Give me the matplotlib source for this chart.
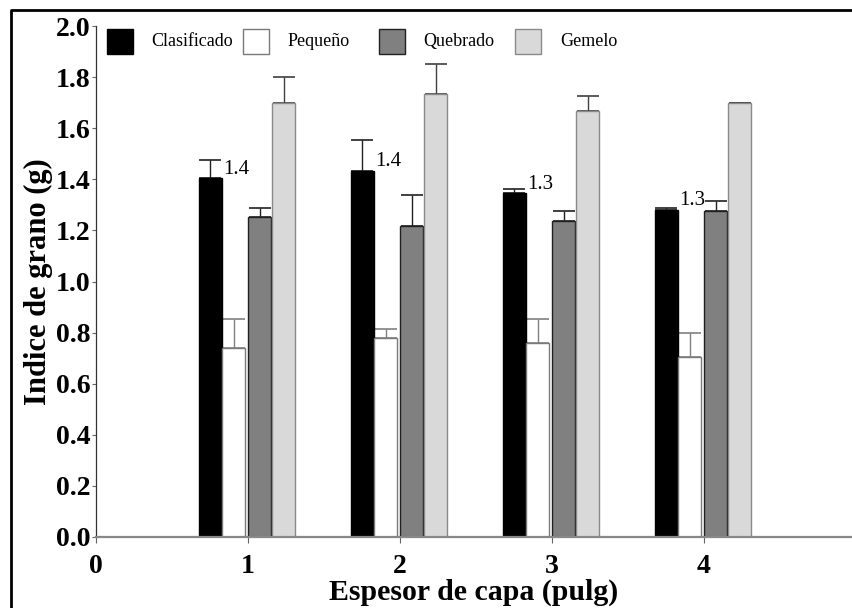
import matplotlib.pyplot as plt
from matplotlib.lines import Line2D
from matplotlib.patches import Rectangle

# Indice de grano por espesor de capa
espesor = [1, 2, 3, 4]
series = ['Clasificado', 'Pequeño', 'Quebrado', 'Gemelo']
clasificado = [1.404, 1.434, 1.345, 1.280]
pequeno = [0.739, 0.779, 0.758, 0.703]
quebrado = [1.251, 1.217, 1.238, 1.275]
gemelo = [1.700, 1.734, 1.669, 1.700]
err_clasificado = [0.072, 0.120, 0.018, 0.009]
err_pequeno = [0.113, 0.036, 0.096, 0.097]
err_quebrado = [0.035, 0.123, 0.037, 0.039]
err_gemelo = [0.100, 0.116, 0.057, 0.0]

values = [clasificado, pequeno, quebrado, gemelo]
errors = [err_clasificado, err_pequeno, err_quebrado, err_gemelo]
faces = ['#000000', '#ffffff', '#808080', '#d9d9d9']
edges = ['#000000', '#7a7a7a', '#202020', '#8a8a8a']
err_colors = ['#202020', '#808080', '#202020', '#404040']
offsets = [-0.245, -0.092, 0.080, 0.237]
width = 0.151

plt.rcParams['font.family'] = ['Liberation Serif', 'DejaVu Serif']

fig = plt.figure(figsize=(8.52, 6.08), dpi=100)
ax = fig.add_axes([95.5 / 852, 1 - 537 / 608, 1 - 95.5 / 852, (537 - 26) / 608])

for vals, errs, fc, ec, erc, off in zip(values, errors, faces, edges, err_colors, offsets):
    xs = [x + off for x in espesor]
    ax.bar(xs, vals, width=width, color=fc, edgecolor=ec, linewidth=1.0, zorder=2)
    ax.errorbar(xs, vals, yerr=[[0] * len(errs), errs], fmt='none', ecolor=erc,
                elinewidth=1.0, capsize=8.0, capthick=1.2, zorder=1)

# valor sobre la barra de clasificado
for x, v in zip(espesor, clasificado):
    ax.annotate(f'{v:.1f}', (x + offsets[0] + width / 2, v), xytext=(1.0, 6.5),
                textcoords='offset points', ha='left', va='center', fontsize=15)

# leyenda con columnas fijas
for i, (name, fc, ec) in enumerate(zip(series, faces, edges)):
    x0 = 0.0146 + i * 0.1799
    ax.add_patch(Rectangle((x0, 0.945), 0.0344, 0.049, transform=ax.transAxes,
                           facecolor=fc, edgecolor=ec, linewidth=1.0, clip_on=False))
    ax.text(x0 + 0.0595, 0.9697, name, transform=ax.transAxes, ha='left',
            va='center', fontsize=13)

ax.set_xlim(0, (852 - 95.5) / 152)
ax.set_ylim(0, 2.0)
ax.set_xticks([0, 1, 2, 3, 4])
ax.set_yticks([0.0, 0.2, 0.4, 0.6, 0.8, 1.0, 1.2, 1.4, 1.6, 1.8, 2.0])
ax.set_yticklabels([f'{t:.1f}' for t in ax.get_yticks()])
for lbl in ax.get_xticklabels() + ax.get_yticklabels():
    lbl.set_fontweight('bold')
ax.tick_params(axis='y', direction='out', length=3, width=0.8, color='#666666',
               labelsize=20, pad=0.5)
ax.tick_params(axis='x', direction='out', length=4, width=0.8, color='#666666',
               labelsize=20, pad=8)

ax.spines['top'].set_visible(False)
ax.spines['right'].set_visible(False)
ax.spines['left'].set_color('#333333')
ax.spines['left'].set_linewidth(0.9)
ax.spines['bottom'].set_color('#888888')
ax.spines['bottom'].set_linewidth(1.6)

ax.set_xlabel('Espesor de capa (pulg)', fontsize=21.5, fontweight='bold', labelpad=0)
ax.set_ylabel('Indice de grano (g)', fontsize=22, fontweight='bold', labelpad=2)

# marco exterior
fx = 11 / 852
fy = 1 - 10 / 608
fig.add_artist(Line2D([fx, fx, 1.0], [0.0, fy, fy], transform=fig.transFigure,
                      color='black', linewidth=2.0))

fig.savefig('out.png', dpi=100)
